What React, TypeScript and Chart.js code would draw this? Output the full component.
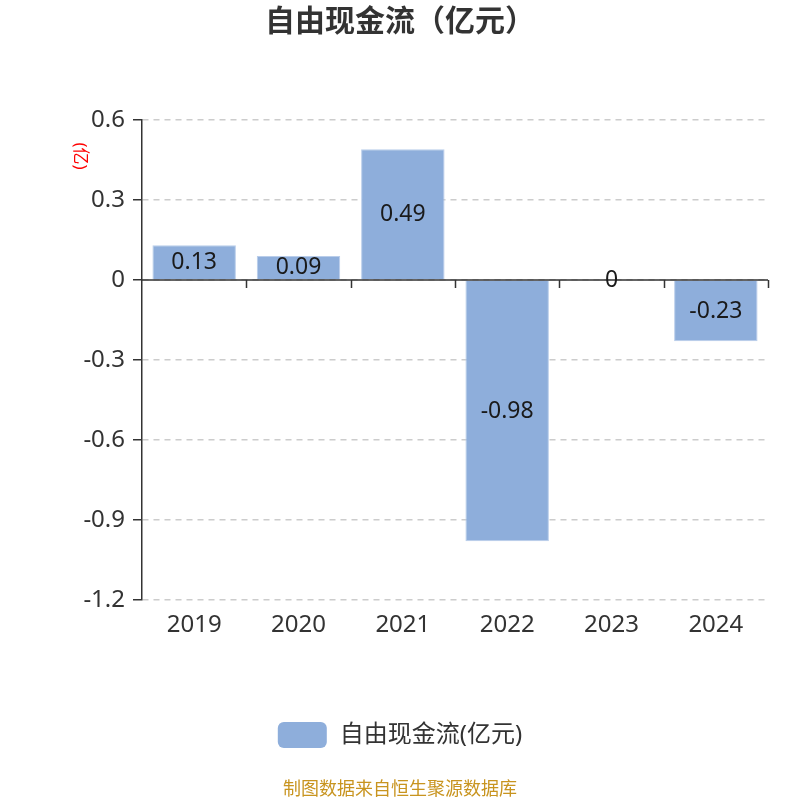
import { useEffect, useRef } from "react"
import { Chart, registerables } from "chart.js"

Chart.register(...registerables)

// data
const years = ["2019", "2020", "2021", "2022", "2023", "2024"]
const freeCashFlow = [0.13, 0.09, 0.49, -0.98, 0, -0.23]
const valueLabels = ["0.13", "0.09", "0.49", "-0.98", "0", "-0.23"]

const TITLE = "自由现金流（亿元）"
const SERIES_NAME = "自由现金流(亿元)"
const UNIT = "(亿)"
const FOOTER = "制图数据来自恒生聚源数据库"

const FONT = '"Noto Sans", "Noto Sans CJK SC", sans-serif'
const BAR_COLOR = "#8eaedb"
const AXIS_COLOR = "#333333"

// zero line, value labels, title, legend and footer
const decorPlugin = {
  id: "decor",
  afterDatasetsDraw(chart: any) {
    const { ctx, chartArea, scales } = chart
    const y = scales.y
    const zeroY = y.getPixelForValue(0)
    const step = (chartArea.right - chartArea.left) / years.length

    ctx.save()
    ctx.strokeStyle = AXIS_COLOR
    ctx.lineWidth = 1.5
    ctx.beginPath()
    ctx.moveTo(chartArea.left, zeroY)
    ctx.lineTo(chartArea.right, zeroY)
    for (let i = 1; i <= years.length; i++) {
      const tx = Math.round(chartArea.left + step * i) + 0.5
      ctx.moveTo(tx, zeroY)
      ctx.lineTo(tx, zeroY + 8)
    }
    ctx.stroke()

    // value labels in the middle of each bar
    const meta = chart.getDatasetMeta(0)
    ctx.fillStyle = "#1a1a1a"
    ctx.font = `23px ${FONT}`
    ctx.textAlign = "center"
    ctx.textBaseline = "middle"
    meta.data.forEach((bar: any, i: number) => {
      const cy = (bar.y + bar.base) / 2
      ctx.fillText(valueLabels[i], bar.x, cy)
    })
    ctx.restore()
  },
  afterDraw(chart: any) {
    const { ctx, width } = chart
    ctx.save()

    // title
    ctx.fillStyle = "#333333"
    ctx.font = `bold 30px ${FONT}`
    ctx.textAlign = "center"
    ctx.textBaseline = "middle"
    ctx.fillText(TITLE, width / 2, 22)

    // unit label, rotated clockwise
    ctx.save()
    ctx.translate(80, 156)
    ctx.rotate(Math.PI / 2)
    ctx.fillStyle = "#ff0000"
    ctx.font = `17px ${FONT}`
    ctx.fillText(UNIT, 0, 0)
    ctx.restore()

    // legend
    ctx.font = `24px ${FONT}`
    const textW = ctx.measureText(SERIES_NAME).width
    const boxW = 49
    const boxH = 26
    const gap = 13
    const total = boxW + gap + textW
    const lx = width / 2 - total / 2
    const ly = 735
    ctx.fillStyle = BAR_COLOR
    ctx.beginPath()
    ctx.roundRect(lx, ly - boxH / 2, boxW, boxH, 6)
    ctx.fill()
    ctx.fillStyle = "#333333"
    ctx.textAlign = "left"
    ctx.fillText(SERIES_NAME, lx + boxW + gap, ly)

    // footer
    ctx.fillStyle = "#c8941f"
    ctx.font = `18px ${FONT}`
    ctx.textAlign = "center"
    ctx.fillText(FOOTER, width / 2, 790)

    ctx.restore()
  },
}

export default function App() {
  const canvasRef = useRef<HTMLCanvasElement>(null)

  useEffect(() => {
    if (!canvasRef.current) return

    const chart = new Chart(canvasRef.current, {
      type: "bar",
      data: {
        labels: years,
        datasets: [
          {
            label: SERIES_NAME,
            data: freeCashFlow,
            backgroundColor: BAR_COLOR,
            borderColor: "#b9cdea",
            borderWidth: 1,
            categoryPercentage: 1,
            barPercentage: 0.8,
          },
        ],
      },
      options: {
        responsive: true,
        maintainAspectRatio: false,
        animation: false,
        layout: {
          padding: { top: 120, left: 0, right: 32, bottom: 160 },
        },
        plugins: {
          legend: { display: false },
          title: { display: false },
          tooltip: { enabled: false },
        },
        scales: {
          x: {
            grid: { display: false, drawTicks: false },
            border: { display: false },
            ticks: {
              color: "#333333",
              font: { family: FONT, size: 24 },
              padding: 11,
            },
            afterFit: (scale: any) => {
              scale.height = 40
            },
          },
          y: {
            min: -1.2,
            max: 0.6,
            grid: {
              color: "#cccccc",
              lineWidth: 1.5,
              tickColor: AXIS_COLOR,
              tickLength: 9,
              tickWidth: 1.5,
            },
            border: {
              display: true,
              color: AXIS_COLOR,
              width: 1.5,
              dash: [6, 5],
            },
            ticks: {
              stepSize: 0.3,
              color: "#333333",
              font: { family: FONT, size: 24 },
              padding: 8,
              callback: (v: any) => String(Number(Number(v).toFixed(1))),
            },
            afterFit: (scale: any) => {
              scale.width = 142
            },
          },
        },
      },
      plugins: [decorPlugin],
    })

    return () => {
      chart.destroy()
    }
  }, [])

  return (
    <div style={{ position: "absolute", left: 0, top: 0, width: 800, height: 800, background: "#ffffff" }}>
      <canvas ref={canvasRef}></canvas>
    </div>
  )
}
